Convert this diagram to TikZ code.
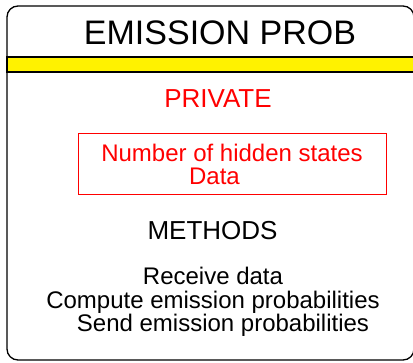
\documentclass[tikz,border=0pt]{standalone}
\usepackage{fontspec}
\setmainfont{Liberation Sans}
\usetikzlibrary{positioning}

\begin{document}
\begin{tikzpicture}[
			x=1pt, y=-1pt,
			classbox/.style={draw, line width=1.3pt, rounded corners=11pt},
			band/.style={draw, line width=1.3pt, fill=yellow},
			classname/.style={font=\fontsize{34}{40}\selectfont},
			section/.style={font=\fontsize{26}{31}\selectfont},
			attrbox/.style={draw=red, line width=1pt, text=red, align=center, minimum width=308pt, minimum height=61pt, font=\fontsize{24}{23.5}\selectfont},
			methodlist/.style={align=center, font=\fontsize{24}{23.5}\selectfont}
		]
		\useasboundingbox (0,0) rectangle (413,363);
		% Class outline and separator
		\draw[classbox] (7,6) rectangle (414,360);
		\draw[band] (7,57) rectangle (414,72);
		
		% Class name
		\node[classname] (name) at (220,33) {EMISSION PROB};
		
		% Private members
		\node[section, text=red] (private) at (218,99) {PRIVATE};
		\node[attrbox] (attrs) at (232,164.5) {Number of hidden states\\Data\hspace*{35pt}};
		
		% Methods
		\node[section] (methods) at (212.5,231) {METHODS};
		\node[methodlist] (ops) at (213,302) {Receive data\\Compute emission probabilities\\\hspace*{20pt}Send emission probabilities};
		\end{tikzpicture}
\end{document}
